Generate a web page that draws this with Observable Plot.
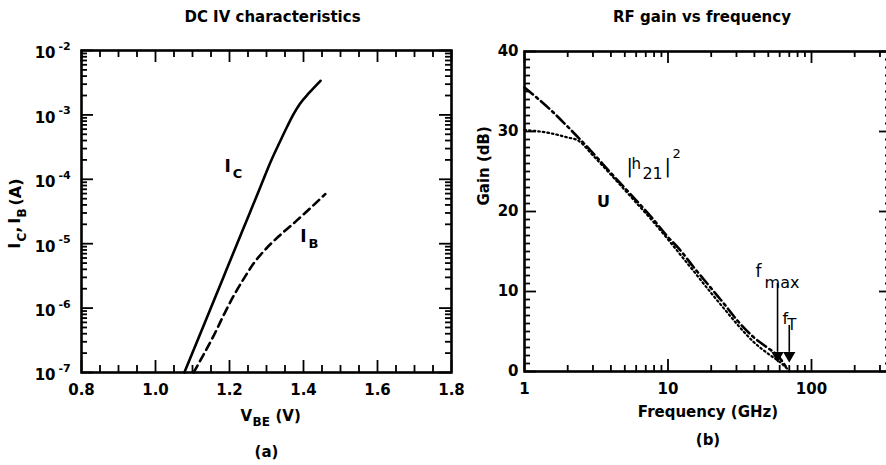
<!DOCTYPE html>
<html><head><meta charset="utf-8">
<script src="https://cdn.jsdelivr.net/npm/d3@7"></script>
<script src="https://cdn.jsdelivr.net/npm/@observablehq/plot@0.6"></script>
<style>
html,body{margin:0;padding:0;background:#fff;}
#wrap{position:relative;width:886px;height:465px;overflow:hidden;background:#fff;}
#wrap > svg{position:absolute;top:0;background:transparent;}
</style></head><body><div id="wrap"></div>
<script>
// ---------- Panel (a): DC IV characteristics ----------
const titleA = "DC IV characteristics";
const vbeIC  = [1.078, 1.131, 1.185, 1.22, 1.252, 1.284, 1.311, 1.336, 1.356, 1.372, 1.39, 1.415, 1.446];
const icAmps = [1.0e-7, 5.5e-7, 3.16e-6, 9.8e-6, 2.75e-5, 7.76e-5, 1.86e-4, 3.8e-4, 6.6e-4, 1.0e-3, 1.48e-3, 2.19e-3, 3.39e-3];
const vbeIB  = [1.103, 1.13, 1.158, 1.185, 1.212, 1.24, 1.266, 1.30, 1.338, 1.38, 1.42, 1.459];
const ibAmps = [1.0e-7, 1.9e-7, 3.8e-7, 7.94e-7, 1.58e-6, 2.95e-6, 5.0e-6, 8.5e-6, 1.38e-5, 2.24e-5, 3.63e-5, 5.9e-5];
const vbeTicks = [0.8, 1.0, 1.2, 1.4, 1.6, 1.8];
const vbeTickLabels = ["0.8", "1.0", "1.2", "1.4", "1.6", "1.8"];
const currentTicks = [1e-2, 1e-3, 1e-4, 1e-5, 1e-6, 1e-7];
const currentExponents = ["-2", "-3", "-4", "-5", "-6", "-7"];
const icLabelPos = [1.195, 1.58e-4];
const ibLabelPos = [1.40, 1.29e-5];

// ---------- Panel (b): RF gain vs frequency ----------
const titleB = "RF gain vs frequency";
const freqU   = [1, 1.5, 2, 3, 4, 6, 8, 10, 12, 15, 20, 25, 30, 40, 50, 58, 68];
const gainU   = [35.5, 32.8, 30.6, 27.3, 24.8, 21.4, 18.9, 16.8, 15.3, 13.1, 10.4, 8.3, 6.5, 4.2, 2.9, 2.0, 0.3];
const freqH21 = [1, 1.5, 2, 2.35, 3, 4, 6, 8, 10, 15, 20, 25, 30, 40, 50, 60, 70];
const gainH21 = [30.2, 29.8, 29.25, 28.9, 27.0, 24.6, 21.1, 18.6, 16.5, 12.6, 9.8, 7.7, 6.0, 3.6, 2.2, 1.2, 0.1];
const freqTicks = [1, 10, 100];
const freqTickLabels = ["1", "10", "100"];
const gainTicks = [0, 10, 20, 30, 40];
const gainTickLabels = ["0", "10", "20", "30", "40"];
const markerFreq = [58, 70];          // f_max, f_T (GHz)
const markerTop  = [11, 5.75];        // top of the arrow lines (dB)
const markerSub  = ["max", "T"];
const h21LabelPos = [5.13, 25.6];
const uLabelPos   = [3.55, 21.25];

// ---------- styling ----------
const FONT = "'DejaVu Sans', 'Liberation Sans', Arial, sans-serif";
const INK = "#000";
const tickW = 1.8;

function t(data, o) {
  return Plot.text(data, {fontFamily: FONT, fill: INK, fontWeight: "bold", fontSize: 15, lineAnchor: "middle", ...o});
}
function rx(values, y1, y2) {
  return Plot.ruleX(values, {x: d => d, y1, y2, stroke: INK, strokeWidth: tickW});
}
function ry(values, x1, x2) {
  return Plot.ruleY(values, {y: d => d, x1, x2, stroke: INK, strokeWidth: tickW});
}

// tick positions
const minorV = d3.range(0.85, 1.79, 0.05).filter(v => Math.abs(v * 5 - Math.round(v * 5)) > 1e-6);
const logMinorI = [];
for (const d of [1e-7, 1e-6, 1e-5, 1e-4, 1e-3]) for (let k = 2; k <= 9; k++) logMinorI.push(k * d);
const logMinorF = [];
for (const d of [1, 10, 100]) for (let k = 2; k <= 9; k++) if (k * d <= 361) logMinorF.push(k * d);
const minorG = d3.range(1, 40).filter(g => g % 10 !== 0);

const wrap = document.getElementById("wrap");

// ---------- Panel (a) ----------
const HA = 465 - 50 - 93, WA = 460 - 81 - 9;
const decA = HA / 5, perVA = WA / 1.0;          // pixels per decade / per volt
const yLoA = 1e-7, yHiA = 1e-2, xLoA = 0.8, xHiA = 1.8;
const upA = s => 10 ** (s / decA);              // log factor for an s-pixel tick
const left = Plot.plot({
  width: 460, height: 465,
  marginLeft: 81, marginRight: 9, marginTop: 50, marginBottom: 93,
  style: {fontFamily: FONT, fontWeight: "bold", fontSize: "15px", background: "transparent", overflow: "visible"},
  x: {domain: [xLoA, xHiA], label: null, axis: null},
  y: {type: "log", domain: [yLoA, yHiA], label: null, axis: null},
  marks: [
    // inward ticks
    rx(minorV, yLoA, yLoA * upA(7)), rx(vbeTicks, yLoA, yLoA * upA(12)),
    rx(minorV, yHiA, yHiA / upA(7)), rx(vbeTicks, yHiA, yHiA / upA(12)),
    ry(logMinorI, xLoA, xLoA + 6 / perVA), ry(currentTicks, xLoA, xLoA + 12 / perVA),
    ry(logMinorI, xHiA, xHiA - 6 / perVA), ry(currentTicks, xHiA, xHiA - 12 / perVA),
    Plot.frame({stroke: INK, fill: "none", strokeWidth: 2.6}),
    t(vbeTicks, {x: d => d, frameAnchor: "bottom", text: (d, i) => vbeTickLabels[i], dy: 18}),
    t(currentTicks, {y: d => d, frameAnchor: "left", text: () => "10", textAnchor: "end", dx: -26, dy: 3}),
    t(currentTicks, {y: d => d, frameAnchor: "left", text: (d, i) => currentExponents[i], textAnchor: "start", dx: -23, dy: -4, fontSize: 11}),
    Plot.line(vbeIC, {x: d => d, y: (d, i) => icAmps[i], stroke: INK, strokeWidth: 2.6, curve: "monotone-x"}),
    Plot.line(vbeIB, {x: d => d, y: (d, i) => ibAmps[i], stroke: INK, strokeWidth: 2.6, strokeDasharray: "8,5", curve: "monotone-x"}),
    t([icLabelPos], {x: d => d[0], y: d => d[1], text: () => "I", fontSize: 17}),
    t([icLabelPos], {x: d => d[0], y: d => d[1], text: () => "C", textAnchor: "start", dx: 5, dy: 7, fontSize: 13}),
    t([ibLabelPos], {x: d => d[0], y: d => d[1], text: () => "I", fontSize: 17}),
    t([ibLabelPos], {x: d => d[0], y: d => d[1], text: () => "B", textAnchor: "start", dx: 5, dy: 7, fontSize: 13}),
    t([titleA], {frameAnchor: "top", text: d => d, dy: -33, dx: 6}),
    t(["V"], {frameAnchor: "bottom", text: d => d, textAnchor: "start", dx: -26, dy: 44}),
    t(["BE"], {frameAnchor: "bottom", text: d => d, textAnchor: "start", dx: -14, dy: 50, fontSize: 12}),
    t(["(V)"], {frameAnchor: "bottom", text: d => d, textAnchor: "start", dx: 9, dy: 44}),
    t(["(a)"], {frameAnchor: "bottom", text: d => d, dy: 80}),
    t(["I"], {frameAnchor: "left", text: d => d, rotate: -90, textAnchor: "start", dx: -66, dy: 37}),
    t(["C"], {frameAnchor: "left", text: d => d, rotate: -90, textAnchor: "start", dx: -59, dy: 30, fontSize: 12}),
    t([","], {frameAnchor: "left", text: d => d, rotate: -90, textAnchor: "start", dx: -66, dy: 21}),
    t(["I"], {frameAnchor: "left", text: d => d, rotate: -90, textAnchor: "start", dx: -66, dy: 12}),
    t(["B"], {frameAnchor: "left", text: d => d, rotate: -90, textAnchor: "start", dx: -59, dy: 6, fontSize: 12}),
    t(["(A)"], {frameAnchor: "left", text: d => d, rotate: -90, textAnchor: "start", dx: -66, dy: -6, fontSize: 16})
  ]
});
left.style.left = "0px";
wrap.appendChild(left);

// ---------- Panel (b) ----------
const HB = 465 - 51 - 94, WB = 448 - 81;
const xLoB = 1, xHiB = 361, yLoB = 0, yHiB = 40;
const perDbB = HB / (yHiB - yLoB), decB = WB / Math.log10(xHiB / xLoB);
const rightF = s => 10 ** (s / decB);
const right = Plot.plot({
  width: 448, height: 465,
  marginLeft: 81, marginRight: 0, marginTop: 51, marginBottom: 94,
  style: {fontFamily: FONT, fontWeight: "bold", fontSize: "15px", background: "transparent", overflow: "visible"},
  x: {type: "log", domain: [xLoB, xHiB], label: null, axis: null},
  y: {domain: [yLoB, yHiB], label: null, axis: null},
  marks: [
    // inward ticks
    rx(logMinorF, yLoB, yLoB + 6 / perDbB), rx(freqTicks, yLoB, yLoB + 12 / perDbB),
    rx(logMinorF, yHiB, yHiB - 6 / perDbB), rx(freqTicks, yHiB, yHiB - 12 / perDbB),
    ry(minorG, xLoB, xLoB * rightF(6)), ry(gainTicks, xLoB, xLoB * rightF(12)),
    ry(minorG, xHiB, xHiB / rightF(6)), ry(gainTicks, xHiB, xHiB / rightF(12)),
    Plot.frame({stroke: INK, fill: "none", strokeWidth: 2.6}),
    t(freqTicks, {x: d => d, frameAnchor: "bottom", text: (d, i) => freqTickLabels[i], dy: 18}),
    t(gainTicks, {y: d => d, frameAnchor: "left", text: (d, i) => gainTickLabels[i], textAnchor: "end", dx: -6}),
    Plot.line(freqH21, {x: d => d, y: (d, i) => gainH21[i], stroke: INK, strokeWidth: 2.2, strokeDasharray: "1.6,3", curve: "monotone-x"}),
    Plot.line(freqU, {x: d => d, y: (d, i) => gainU[i], stroke: INK, strokeWidth: 2.6, strokeDasharray: "11,4,2.5,4", curve: "monotone-x"}),
    Plot.ruleX(markerFreq, {x: d => d, y1: (d, i) => markerTop[i], y2: 2.4, stroke: INK, strokeWidth: 1.6}),
    Plot.dot(markerFreq, {x: d => d, y: 2.0, symbol: "triangle", rotate: 180, r: 3.6, fill: INK, stroke: INK}),
    t([markerFreq[0]], {x: d => d, y: markerTop[0], text: () => "f", dx: -19, dy: -12, fontSize: 17, fontWeight: "normal"}),
    t([markerFreq[0]], {x: d => d, y: markerTop[0], text: () => markerSub[0], textAnchor: "start", dx: -13, dy: -1, fontSize: 16, fontWeight: "normal"}),
    t([markerFreq[1]], {x: d => d, y: markerTop[1], text: () => "f", dx: -4, dy: -7, fontSize: 16, fontWeight: "normal"}),
    t([markerFreq[1]], {x: d => d, y: markerTop[1], text: () => markerSub[1], textAnchor: "start", dx: -2, dy: 0, fontSize: 15, fontWeight: "normal"}),
    t([h21LabelPos], {x: d => d[0], y: d => d[1], text: () => "|", textAnchor: "start", dx: 0, dy: 0, fontSize: 19, fontWeight: "normal"}),
    t([h21LabelPos], {x: d => d[0], y: d => d[1], text: () => "h", textAnchor: "start", dx: 5, dy: -3, fontSize: 15, fontWeight: "normal"}),
    t([h21LabelPos], {x: d => d[0], y: d => d[1], text: () => "21", textAnchor: "start", dx: 16, dy: 7, fontSize: 16, fontWeight: "normal"}),
    t([h21LabelPos], {x: d => d[0], y: d => d[1], text: () => "|", textAnchor: "start", dx: 38, dy: 0, fontSize: 19, fontWeight: "normal"}),
    t([h21LabelPos], {x: d => d[0], y: d => d[1], text: () => "2", textAnchor: "start", dx: 46, dy: -13, fontSize: 13, fontWeight: "normal"}),
    t([uLabelPos], {x: d => d[0], y: d => d[1], text: () => "U", fontSize: 16}),
    t([titleB], {frameAnchor: "top", text: d => d, dy: -34, dx: -6}),
    t(["Frequency (GHz)"], {frameAnchor: "bottom", text: d => d, dy: 41}),
    t(["(b)"], {frameAnchor: "bottom", text: d => d, dy: 69}),
    t(["Gain (dB)"], {frameAnchor: "left", text: d => d, rotate: -90, dx: -40, dy: -6})
  ]
});
right.style.left = "443px";
wrap.appendChild(right);
</script>
</body></html>
